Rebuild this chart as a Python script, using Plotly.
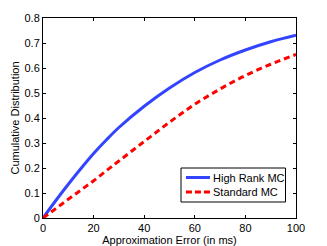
import plotly.graph_objects as go

x_vals = [0, 5, 10, 15, 20, 25, 30, 40, 50, 60, 70, 80, 90, 100]
high_rank_mc = [0.0, 0.069, 0.135, 0.198, 0.258, 0.312, 0.362, 0.447, 0.52, 0.582, 0.632, 0.672, 0.705, 0.731]
standard_mc = [0.0, 0.037, 0.075, 0.112, 0.149, 0.189, 0.228, 0.306, 0.383, 0.455, 0.516, 0.570, 0.615, 0.654]
series_names = ["High Rank MC", "Standard MC"]
x_ticks = [0, 20, 40, 60, 80, 100]
y_ticks = [0, 0.1, 0.2, 0.3, 0.4, 0.5, 0.6, 0.7, 0.8]
y_tick_text = ["0", "0.1", "0.2", "0.3", "0.4", "0.5", "0.6", "0.7", "0.8"]

font = "Liberation Sans, Arial, sans-serif"
blue = "#3344ff"
red = "#ff0000"
red_dash = "6px,4px"

fig = go.Figure()
fig.add_trace(go.Scatter(x=x_vals, y=high_rank_mc, mode="lines", name=series_names[0],
                         line=dict(color=blue, width=3, shape="spline", smoothing=1.0)))
fig.add_trace(go.Scatter(x=x_vals, y=standard_mc, mode="lines", name=series_names[1],
                         line=dict(color=red, width=3, dash=red_dash, shape="spline", smoothing=1.0)))

axis_common = dict(showgrid=False, zeroline=False, showline=True, linecolor="black",
                   linewidth=1, mirror="ticks", ticks="inside", ticklen=3,
                   tickcolor="black", automargin=False,
                   tickfont=dict(family=font, size=11, color="black"))

# legend box drawn in plot-area (paper) coordinates
box = dict(x0=0.5455, x1=0.9585, y0=0.08, y1=0.25)
sample_x = (0.565, 0.660)
rows_y = [0.2025, 0.13]
text_x = 0.666

shapes = [dict(type="rect", xref="paper", yref="paper", **box,
               line=dict(color="black", width=1), fillcolor="white", layer="above")]
shapes.append(dict(type="line", xref="paper", yref="paper", x0=sample_x[0], x1=sample_x[1],
                   y0=rows_y[0], y1=rows_y[0], line=dict(color=blue, width=3), layer="above"))
shapes.append(dict(type="line", xref="paper", yref="paper", x0=sample_x[0], x1=sample_x[1],
                   y0=rows_y[1], y1=rows_y[1], line=dict(color=red, width=3, dash="6px,3px"),
                   layer="above"))
annotations = [dict(xref="paper", yref="paper", x=text_x, y=ry, text=name, showarrow=False,
                    xanchor="left", yanchor="middle", font=dict(family=font, size=11, color="black"))
               for name, ry in zip(series_names, rows_y)]

fig.update_layout(
    width=327, height=246,
    margin=dict(l=43, r=31, t=18, b=28),
    plot_bgcolor="white", paper_bgcolor="white",
    font=dict(family=font, color="black"),
    xaxis=dict(range=[0, 100], tickvals=x_ticks,
               title=dict(text="Approximation Error (in ms)", font=dict(size=11), standoff=0),
               **axis_common),
    yaxis=dict(range=[0, 0.8], tickvals=y_ticks, ticktext=y_tick_text,
               title=dict(text="Cumulative Distribution", font=dict(size=11), standoff=2),
               **axis_common),
    showlegend=False,
    shapes=shapes,
    annotations=annotations,
)

fig.write_html("out.html", config={"displayModeBar": False},
               post_script="document.body.style.margin='0';document.body.style.padding='0';")
